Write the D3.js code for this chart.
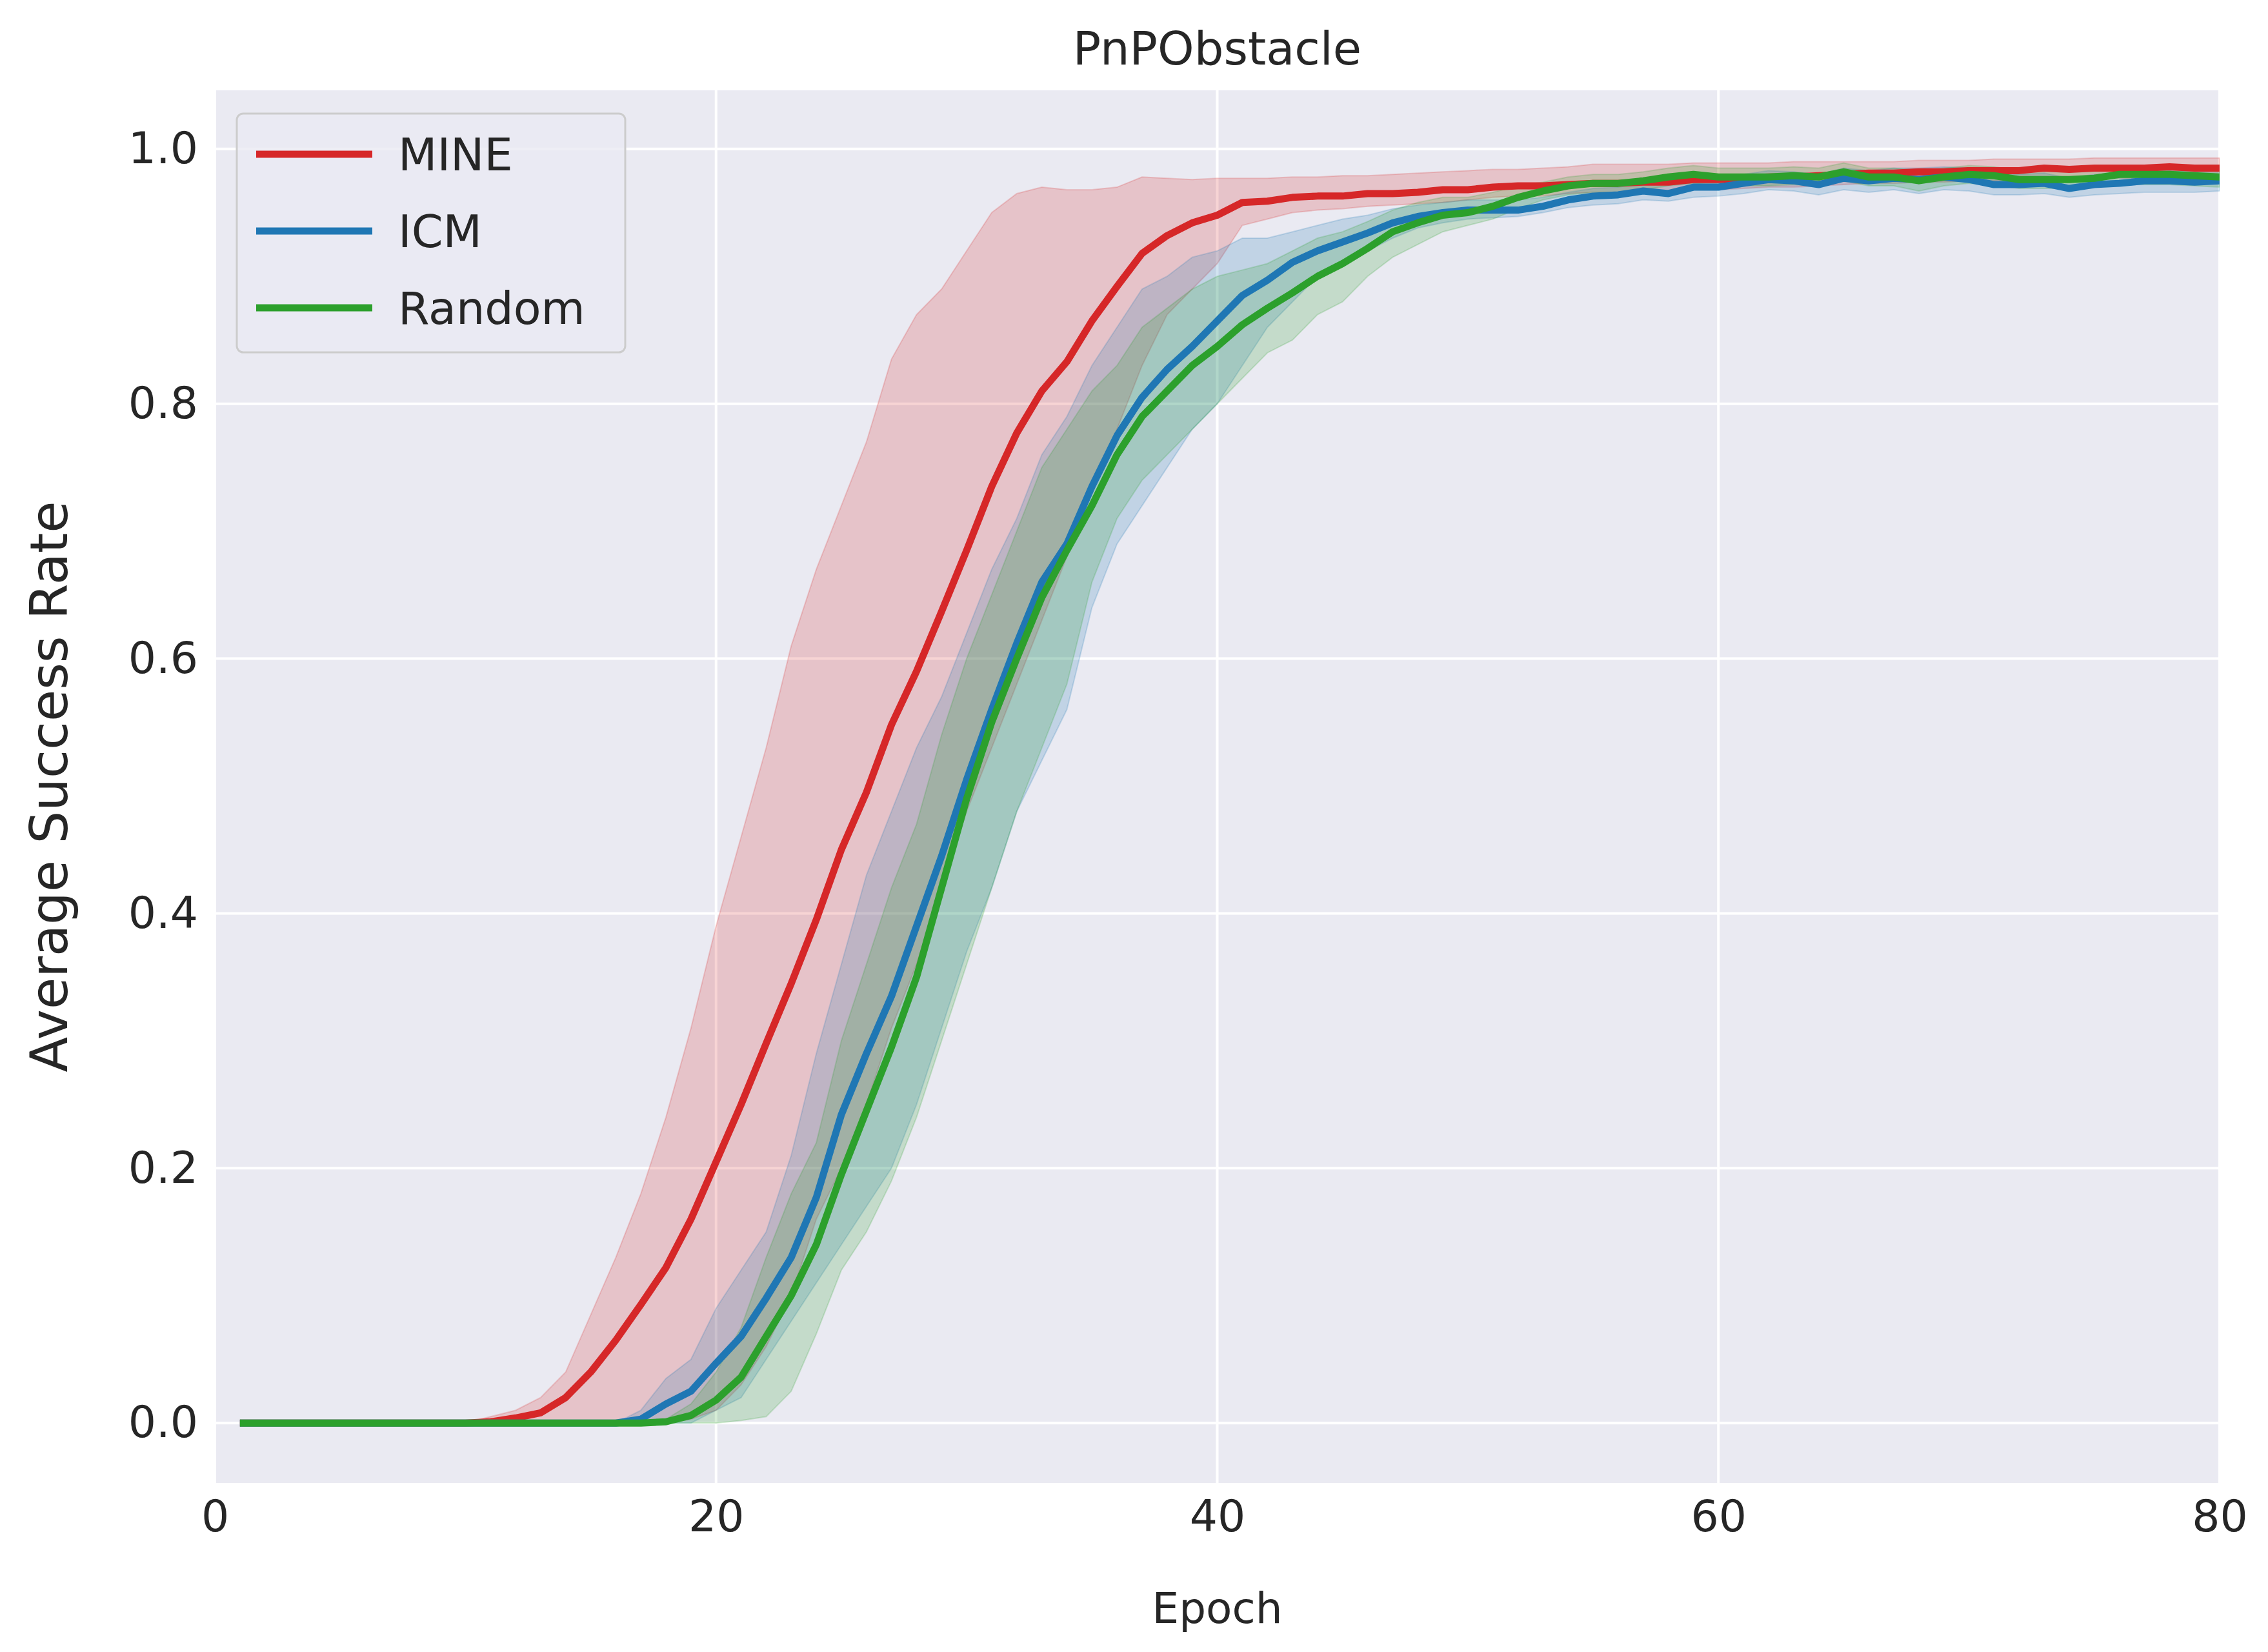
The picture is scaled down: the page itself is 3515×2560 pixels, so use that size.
<!DOCTYPE html>
<html><head><meta charset="utf-8">
<script src="https://cdn.jsdelivr.net/npm/d3@7"></script>
<style>body{margin:0;background:#fff}svg{display:block}</style>
</head><body><div id="chart"></div>
<script>
const W = 3515, H = 2560;
const m = {left: 333, right: 3515 - 3440, top: 140, bottom: 2560 - 2298};

const epochs = d3.range(1, 81);
const seriesNames = ["MINE", "ICM", "Random"];
const colors = ["#d62728", "#1f77b4", "#2ca02c"];
const xTicks = [0, 20, 40, 60, 80];
const yTicks = [0, 0.2, 0.4, 0.6, 0.8, 1.0];

const mineMean = [0,0,0,0,0,0,0,0,0,0,0.001,0.004,0.008,0.02,0.04,0.065,0.093,0.122,0.16,0.205,
0.25,0.298,0.345,0.395,0.45,0.495,0.548,0.59,0.637,0.685,0.735,0.777,0.81,0.833,0.865,0.892,0.918,0.932,0.942,0.948,
0.958,0.959,0.962,0.963,0.963,0.965,0.965,0.966,0.968,0.968,0.97,0.971,0.971,0.972,0.973,0.973,0.974,0.974,0.976,0.976,
0.977,0.978,0.978,0.979,0.98,0.981,0.981,0.982,0.982,0.983,0.983,0.983,0.985,0.984,0.985,0.985,0.985,0.986,0.985,0.985];
const mineLow = [0,0,0,0,0,0,0,0,0,0,0,0,0,0,0,0,0,0,0.003,0.01,
0.03,0.06,0.1,0.16,0.2,0.25,0.31,0.36,0.42,0.48,0.53,0.58,0.63,0.68,0.73,0.78,0.83,0.87,0.89,0.91,
0.94,0.945,0.95,0.952,0.953,0.955,0.956,0.957,0.958,0.96,0.962,0.963,0.963,0.965,0.966,0.966,0.967,0.967,0.968,0.968,
0.969,0.97,0.97,0.971,0.972,0.973,0.973,0.974,0.974,0.975,0.975,0.975,0.976,0.976,0.977,0.977,0.977,0.978,0.978,0.978];
const mineHigh = [0,0,0,0,0,0,0,0,0,0,0.005,0.01,0.02,0.04,0.085,0.13,0.18,0.24,0.31,0.39,
0.46,0.53,0.61,0.67,0.72,0.77,0.835,0.87,0.89,0.92,0.95,0.965,0.97,0.968,0.968,0.97,0.978,0.977,0.976,0.977,
0.977,0.977,0.978,0.978,0.979,0.979,0.98,0.981,0.982,0.983,0.984,0.984,0.985,0.986,0.988,0.988,0.988,0.988,0.989,0.989,
0.989,0.989,0.99,0.99,0.99,0.99,0.99,0.991,0.991,0.991,0.992,0.992,0.992,0.992,0.993,0.993,0.993,0.993,0.993,0.993];

const icmMean = [0,0,0,0,0,0,0,0,0,0,0,0,0,0,0,0,0.003,0.015,0.025,0.047,
0.068,0.098,0.13,0.177,0.242,0.29,0.335,0.39,0.445,0.505,0.56,0.612,0.66,0.69,0.735,0.775,0.805,0.827,0.845,0.865,
0.885,0.897,0.911,0.92,0.927,0.934,0.942,0.947,0.95,0.952,0.952,0.952,0.955,0.96,0.963,0.964,0.967,0.965,0.97,0.97,
0.973,0.976,0.975,0.972,0.977,0.975,0.977,0.976,0.978,0.976,0.972,0.972,0.973,0.969,0.972,0.973,0.975,0.975,0.974,0.975];
const icmLow = [0,0,0,0,0,0,0,0,0,0,0,0,0,0,0,0,0,0,0,0.01,
0.02,0.05,0.08,0.11,0.14,0.17,0.2,0.25,0.31,0.37,0.42,0.48,0.52,0.56,0.64,0.69,0.72,0.75,0.78,0.8,
0.83,0.86,0.88,0.9,0.91,0.92,0.93,0.938,0.942,0.945,0.946,0.947,0.95,0.954,0.956,0.957,0.96,0.959,0.962,0.963,
0.965,0.968,0.967,0.964,0.968,0.966,0.968,0.965,0.968,0.967,0.964,0.964,0.965,0.962,0.964,0.965,0.966,0.966,0.966,0.967];
const icmHigh = [0,0,0,0,0,0,0,0,0,0,0,0,0,0,0,0,0.01,0.035,0.05,0.09,
0.12,0.15,0.21,0.29,0.36,0.43,0.48,0.53,0.57,0.62,0.67,0.71,0.76,0.79,0.83,0.86,0.89,0.9,0.915,0.92,
0.93,0.93,0.935,0.94,0.945,0.948,0.953,0.956,0.958,0.96,0.96,0.96,0.962,0.966,0.969,0.97,0.973,0.972,0.977,0.977,
0.98,0.983,0.982,0.98,0.985,0.983,0.985,0.985,0.986,0.985,0.98,0.98,0.981,0.977,0.98,0.981,0.983,0.983,0.982,0.983];

const rndMean = [0,0,0,0,0,0,0,0,0,0,0,0,0,0,0,0,0,0.001,0.006,0.018,
0.036,0.068,0.1,0.14,0.195,0.245,0.295,0.35,0.42,0.49,0.55,0.6,0.648,0.685,0.72,0.76,0.79,0.81,0.83,0.845,
0.862,0.875,0.887,0.9,0.91,0.922,0.935,0.942,0.948,0.95,0.955,0.962,0.967,0.971,0.973,0.973,0.975,0.978,0.98,0.978,
0.978,0.978,0.979,0.978,0.982,0.978,0.978,0.975,0.978,0.98,0.979,0.976,0.976,0.976,0.977,0.98,0.98,0.98,0.979,0.978];
const rndLow = [0,0,0,0,0,0,0,0,0,0,0,0,0,0,0,0,0,0,0,0,
0.002,0.005,0.025,0.07,0.12,0.15,0.19,0.24,0.3,0.36,0.42,0.48,0.53,0.58,0.66,0.71,0.74,0.76,0.78,0.8,
0.82,0.84,0.85,0.87,0.88,0.9,0.915,0.925,0.935,0.94,0.945,0.953,0.96,0.964,0.966,0.966,0.968,0.971,0.973,0.971,
0.971,0.971,0.972,0.971,0.975,0.971,0.971,0.967,0.971,0.973,0.972,0.969,0.969,0.969,0.97,0.972,0.972,0.972,0.971,0.97];
const rndHigh = [0,0,0,0,0,0,0,0,0,0,0,0,0,0,0,0,0,0.003,0.015,0.04,
0.075,0.13,0.18,0.22,0.3,0.36,0.42,0.47,0.54,0.6,0.65,0.7,0.75,0.78,0.81,0.83,0.86,0.875,0.89,0.9,
0.905,0.91,0.92,0.93,0.935,0.943,0.952,0.958,0.962,0.962,0.966,0.971,0.974,0.978,0.98,0.98,0.982,0.985,0.987,0.985,
0.985,0.985,0.986,0.985,0.989,0.985,0.985,0.983,0.985,0.987,0.986,0.983,0.983,0.983,0.984,0.987,0.987,0.987,0.986,0.986];

const means = [mineMean, icmMean, rndMean];
const lows = [mineLow, icmLow, rndLow];
const highs = [mineHigh, icmHigh, rndHigh];

const font = "'DejaVu Sans', sans-serif";
const svg = d3.select("#chart").append("svg").attr("width", W).attr("height", H);

const x = d3.scaleLinear().domain([0, 80]).range([m.left, W - m.right]);
const y = d3.scaleLinear().domain([-0.047, 1.046]).range([H - m.bottom, m.top]);

svg.append("rect").attr("x", m.left).attr("y", m.top)
    .attr("width", W - m.left - m.right).attr("height", H - m.top - m.bottom)
    .attr("fill", "#eaeaf2");

// grid
svg.append("g").selectAll("line").data(xTicks).enter().append("line")
    .attr("x1", d => x(d)).attr("x2", d => x(d)).attr("y1", m.top).attr("y2", H - m.bottom)
    .attr("stroke", "#fff").attr("stroke-width", 4);
svg.append("g").selectAll("line").data(yTicks).enter().append("line")
    .attr("y1", d => y(d)).attr("y2", d => y(d)).attr("x1", m.left).attr("x2", W - m.right)
    .attr("stroke", "#fff").attr("stroke-width", 4);

svg.append("clipPath").attr("id", "clip").append("rect")
    .attr("x", m.left).attr("y", m.top).attr("width", W - m.left - m.right).attr("height", H - m.top - m.bottom);
const plot = svg.append("g").attr("clip-path", "url(#clip)");

const area = (lo, hi) => d3.area().x((d, i) => x(epochs[i])).y0((d, i) => y(lo[i])).y1((d, i) => y(hi[i]))(epochs);
const line = d3.line().x((d, i) => x(epochs[i])).y(d => y(d));

seriesNames.forEach((s, k) => {
    plot.append("path").attr("d", area(lows[k], highs[k]))
        .attr("fill", colors[k]).attr("fill-opacity", 0.2)
        .attr("stroke", colors[k]).attr("stroke-opacity", 0.2).attr("stroke-width", 2);
});
seriesNames.forEach((s, k) => {
    plot.append("path").attr("d", line(means[k]))
        .attr("fill", "none").attr("stroke", colors[k]).attr("stroke-width", 11)
        .attr("stroke-linejoin", "round");
});

// axes
const xAxis = svg.append("g").attr("transform", `translate(0,${H - m.bottom})`)
    .call(d3.axisBottom(x).tickValues(xTicks).tickSize(0).tickPadding(24));
const yAxis = svg.append("g").attr("transform", `translate(${m.left},0)`)
    .call(d3.axisLeft(y).tickValues(yTicks).tickFormat(d3.format(".1f")).tickSize(0).tickPadding(26));
[xAxis, yAxis].forEach(a => {
    a.select(".domain").remove();
    a.selectAll("text").attr("font-family", font).attr("font-size", 68).attr("fill", "#262626");
});
xAxis.selectAll("text").attr("dy", "0.75em");

svg.append("text").attr("x", (m.left + W - m.right) / 2).attr("y", 2515)
    .attr("text-anchor", "middle").attr("font-family", font).attr("font-size", 66).attr("fill", "#262626").text("Epoch");
svg.append("text").attr("transform", `translate(104,${(m.top + H - m.bottom) / 2}) rotate(-90)`)
    .attr("text-anchor", "middle").attr("font-family", font).attr("font-size", 80).attr("fill", "#262626").text("Average Success Rate");
svg.append("text").attr("x", (m.left + W - m.right) / 2).attr("y", 100)
    .attr("text-anchor", "middle").attr("font-family", font).attr("font-size", 72).attr("fill", "#262626").text("PnPObstacle");

// legend
const lg = svg.append("g").attr("transform", "translate(367,176)");
lg.append("rect").attr("width", 602).attr("height", 370).attr("rx", 10)
    .attr("fill", "#eaeaf2").attr("fill-opacity", 0.8).attr("stroke", "#cccccc").attr("stroke-width", 3);
seriesNames.forEach((s, k) => {
    const yy = 63 + k * 119;
    lg.append("line").attr("x1", 30).attr("x2", 210).attr("y1", yy).attr("y2", yy)
        .attr("stroke", colors[k]).attr("stroke-width", 11);
    lg.append("text").attr("x", 250).attr("y", yy).attr("dy", "0.35em")
        .attr("font-family", font).attr("font-size", 70).attr("fill", "#262626").text(s);
});
</script>
</body></html>
